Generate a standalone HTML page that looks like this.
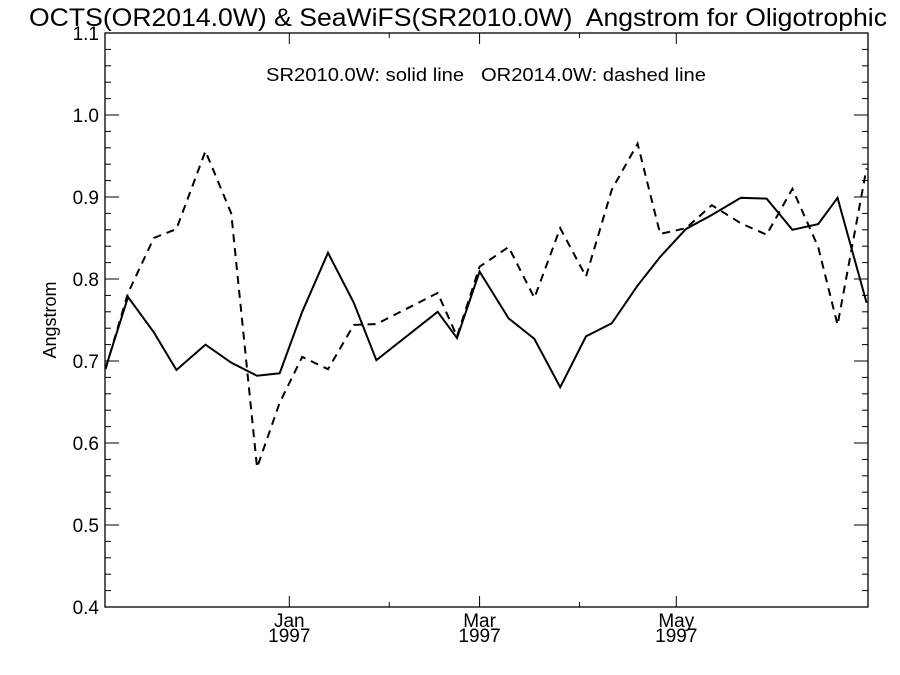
<!DOCTYPE html>
<html><head><meta charset="utf-8"><style>
html,body{margin:0;padding:0;background:#fff;}
svg{display:block;font-family:"Liberation Sans",sans-serif;}
svg text{white-space:pre;}
</style></head><body>
<svg id="chart" width="900" height="675" viewBox="0 0 900 675">
<text x="458" y="26" font-size="25" text-anchor="middle" textLength="858" lengthAdjust="spacingAndGlyphs">OCTS(OR2014.0W) &amp; SeaWiFS(SR2010.0W)  Angstrom for Oligotrophic</text>
<text x="486" y="81" font-size="18.5" text-anchor="middle" textLength="440" lengthAdjust="spacingAndGlyphs">SR2010.0W: solid line   OR2014.0W: dashed line</text>
<text transform="translate(56,320) rotate(-90)" font-size="18" text-anchor="middle">Angstrom</text>
<g id="axes"></g>
<g id="series"></g>
</svg>
<script>
const days = [-57,-50,-42,-35,-26,-18,-10,-3,4,12,20,27,46,52,59,68,76,84,92,100,108,115,123,131,140,148,156,164,170,179];
const seawifs = [0.691,0.778,0.735,0.689,0.720,0.698,0.682,0.685,0.760,0.832,0.771,0.701,0.760,0.728,0.809,0.752,0.727,0.668,0.730,0.746,0.792,0.827,0.861,0.878,0.899,0.898,0.860,0.867,0.899,0.771];
const octs = [0.690,0.783,0.850,0.861,0.956,0.880,0.570,0.649,0.705,0.690,0.744,0.745,0.783,0.730,0.815,0.839,0.777,0.862,0.803,0.909,0.965,0.855,0.862,0.890,0.868,0.854,0.910,0.839,0.744,0.935];
const yTicks = [0.4,0.5,0.6,0.7,0.8,0.9,1.0,1.1];
const xTickDays = [0,59,120];
const xTickMonths = ["Jan","Mar","May"];
const xTickYears = ["1997","1997","1997"];
const xMinorDays = [31,90];

const L=105,R=868,T=33,B=607;
const xs=d=>289.3+d*3.225;
const ys=v=>B-(v-0.4)/0.7*(B-T);
const NS="http://www.w3.org/2000/svg";
function mk(tag,attrs,parent){const e=document.createElementNS(NS,tag);for(const k in attrs)e.setAttribute(k,attrs[k]);parent.appendChild(e);return e;}
const ax=document.getElementById('axes');
const frame=mk('rect',{x:L,y:T,width:R-L,height:B-T,fill:'none',stroke:'#000','stroke-width':1.3},ax);


for(let i=0;i<=35;i++){
  const v=0.4+i*0.02, y=ys(v), major=(i%5===0), len=major?14:6;
  const t1=mk('line',{x1:L,x2:L+len,y1:y,y2:y,stroke:'#000','stroke-width':1},ax);
  
  
  const t2=mk('line',{x1:R,x2:R-len,y1:y,y2:y,stroke:'#000','stroke-width':1},ax);
  
  
}
yTicks.forEach(v=>{
  const t=mk('text',{x:L-6,y:ys(v)+7,'font-size':19,'text-anchor':'end'},ax);
  t.textContent=v.toFixed(1);
  
  
});
xTickDays.forEach((d,i)=>{
  const x=xs(d);
  const a=mk('line',{x1:x,x2:x,y1:B,y2:B-11,stroke:'#000','stroke-width':1},ax);
  
  
  const b=mk('line',{x1:x,x2:x,y1:T,y2:T+11,stroke:'#000','stroke-width':1},ax);
  
  
  const t=mk('text',{x:x,y:B+20,'font-size':19,'text-anchor':'middle'},ax);
  t.textContent=xTickMonths[i];
  
  
  const t2=mk('text',{x:x,y:B+35,'font-size':19,'text-anchor':'middle'},ax);
  t2.textContent=xTickYears[i];
  
  
});
xMinorDays.forEach(d=>{
  const x=xs(d);
  const a=mk('line',{x1:x,x2:x,y1:B,y2:B-5,stroke:'#000','stroke-width':1},ax);
  
  
  const b=mk('line',{x1:x,x2:x,y1:T,y2:T+5,stroke:'#000','stroke-width':1},ax);
  
  
});
const se=document.getElementById('series');
const p1=mk('polyline',{points:days.map((d,i)=>xs(d)+','+ys(seawifs[i])).join(' '),fill:'none',stroke:'#000','stroke-width':2},se);


const p2=mk('polyline',{points:days.map((d,i)=>xs(d)+','+ys(octs[i])).join(' '),fill:'none',stroke:'#000','stroke-width':2,'stroke-dasharray':'8,6'},se);


</script>
</body></html>
